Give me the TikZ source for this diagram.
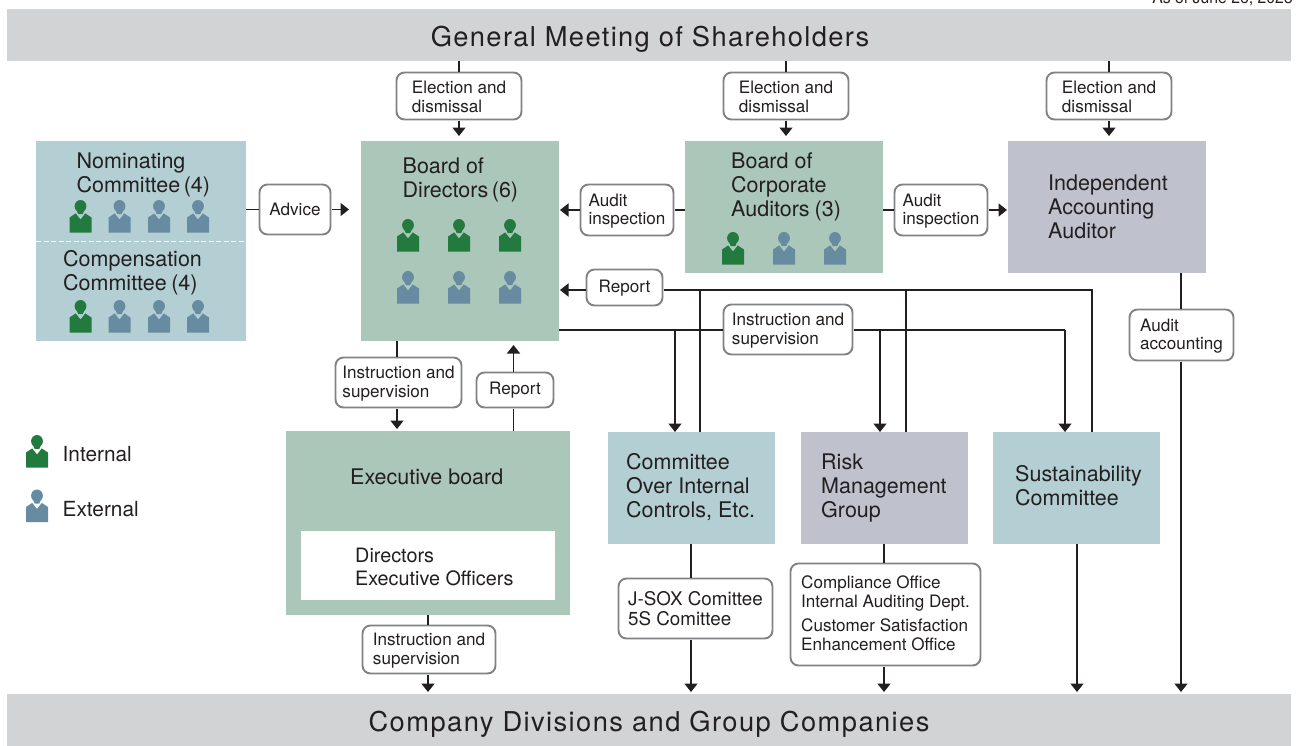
\documentclass[tikz,border=0pt]{standalone}
\usepackage{fontspec}
\setmainfont{TeX Gyre Heros}
\newfontfamily\spaced[LetterSpace=5]{TeX Gyre Heros}
\newfontfamily\spacedb[LetterSpace=5.2]{TeX Gyre Heros}
\usetikzlibrary{arrows.meta}
\definecolor{teal}{HTML}{B3CFD3}
\definecolor{sage}{HTML}{ABC7BA}
\definecolor{slate}{HTML}{BFC2CD}
\definecolor{barg}{HTML}{D1D3D4}
\definecolor{ink}{HTML}{231F20}
\definecolor{framec}{HTML}{808285}
\definecolor{intc}{HTML}{237A3E}
\definecolor{extc}{HTML}{678BA0}
\tikzset{
  block/.style={draw=none,rectangle,inner sep=0pt,outer sep=0pt},
  small/.style={font=\fontsize{17.1}{18.6}\selectfont,text=ink},
  big/.style={font=\fontsize{21.5}{24}\selectfont,text=ink,align=left,inner sep=0pt},
  bar/.style={block,fill=barg,minimum width=1284pt,minimum height=52pt,text=ink},
  lab/.style={draw=framec,line width=1.9pt,fill=white,rounded corners=8pt,small,align=left,inner sep=0pt,outer sep=1pt},
  conn/.style={draw=ink,line width=1.7pt},
  arr/.style={conn,-{Triangle[length=8.5pt,width=13pt]}},
  pics/person/.style={code={
    \fill[#1] (0,6.2) ellipse (5.9 and 6.2);
    \fill[#1] (-3.6,10.5) -- (-2.4,14) -- (2.4,14) -- (3.6,10.5) -- cycle;
    \fill[#1] (-11,32.5) -- (-11,17.5) -- (-4.8,13.4) -- (0,19.5) -- (4.8,13.4) -- (11,17.5) -- (11,32.5) -- cycle;
  }}
}
\newcommand{\bx}[7]{% name, x0,y0,x1,y1, fill, text
  \node[block,fill=#6,minimum width={#4-#2},minimum height={#5-#3},anchor=north west] (#1) at (#2,#3) {#7};}
\newcommand{\lbn}[6]{% name,x0,y0,x1,y1,text
  \node[lab,minimum width={#4-#2-1},minimum height={#5-#3-1},anchor=center] (#1) at ({(#2+#4)/2},{(#3+#5)/2}) {#6};}
\newcommand{\lb}[6]{\lbn{#1}{#2}{#3}{#4}{#5}{\rule{0pt}{14.6pt}#6}}
\begin{document}
\begin{tikzpicture}[x=1pt,y=-1pt]
\useasboundingbox (0,0) rectangle (1296,745);
\clip (0,0) rectangle (1296,745);
\node[anchor=base east,font=\fontsize{15.8}{18}\selectfont,text=ink,inner sep=0pt] (asof) at (1293,3) {As of June 26, 2023};
% bars
\node[bar,font=\spaced\fontsize{27.3}{30}\selectfont] (gms) at (649,35) {\rule{0pt}{28pt}\hspace*{2pt}General Meeting of Shareholders};
\node[bar,font=\spacedb\fontsize{27.3}{30}\selectfont] (cdg) at (649,719.5) {\rule{0pt}{29.5pt}Company Divisions and Group Companies};
% blocks
\bx{nom}{36}{141}{246}{341}{teal}{}
\bx{bod}{361}{141}{559}{341}{sage}{}
\bx{bca}{685}{141}{883}{273}{sage}{}
\bx{iaa}{1008}{141}{1206}{273}{slate}{}
\bx{exb}{286}{431}{570}{615}{sage}{}
\bx{coi}{608}{432}{775}{544}{teal}{}
\bx{rmg}{801}{432}{968}{544}{slate}{}
\bx{sus}{993}{432}{1160}{544}{teal}{}
\bx{off}{301}{531}{555}{600}{white}{}
\coordinate (dl) at (36,241.5); \coordinate (dr) at (246,241.5);
\draw[white,line width=1pt,dash pattern=on 5pt off 2.5pt] (dl) -- (dr);
% block texts
\node[big,anchor=north west] (tnom) at (76.5,153) {Nominating\\Committee\hspace{3.5pt}(4)};
\node[big,anchor=north west] (tcmp) at (63,250) {Compensation\\Committee\hspace{4.5pt}(4)};
\node[big,anchor=north west] (tbod) at (402.5,158) {Board of\\Directors\hspace{3.5pt}(6)};
\node[big,anchor=north west] (tbca) at (731,153) {Board of\\Corporate\\Auditors\hspace{5pt}(3)};
\node[big,anchor=north west] (tiaa) at (1048,175) {Independent\\Accounting\\Auditor};
\node[big,anchor=north west] (texb) at (350,469) {Executive board};
\node[big,anchor=north west,font=\fontsize{19.8}{23}\selectfont] (toff) at (355,547.5) {Directors\\Executive Officers};
\node[big,anchor=north west] (tcoi) at (626,453.5) {Committee\\Over Internal\\Controls, Etc.};
\node[big,anchor=north west] (trmg) at (821,454) {Risk\\Management\\Group};
\node[big,anchor=north west] (tsus) at (1015,465.5) {Sustainability\\Committee};
\node[big,anchor=north west,font=\fontsize{20.8}{24}\selectfont] (tint) at (62.5,446) {Internal};
\node[big,anchor=north west,font=\fontsize{20.8}{24}\selectfont] (text) at (62.5,501) {External};
% persons
\foreach \x/\c in {80.5/intc,119.5/extc,159/extc,198/extc}{
  \pic at (\x,200) {person=\c};
  \pic at (\x,300) {person=\c};
}
\foreach \x in {408,459,510}{
  \pic at (\x,219) {person=intc};
  \pic at (\x,271) {person=extc};
}
\foreach \x/\c in {733/intc,784/extc,835/extc}{
  \pic at (\x,232) {person=\c};
}
\pic at (37,435) {person=intc};
\pic at (37,489.5) {person=extc};
% labels
\lb{el1}{396}{72}{522}{120}{Election and\\dismissal}
\lb{el2}{723}{72}{849}{120}{Election and\\dismissal}
\lb{el3}{1046}{72}{1172}{120}{Election and\\dismissal}
\lbn{adv}{259}{184}{331}{235}{Advice}
\lb{ai1}{580}{184}{674}{236}{Audit\\inspection}
\lb{ai2}{894}{184}{988}{236}{Audit\\inspection}
\lb{rp1}{586}{269}{663}{306}{Report}
\lb{ins}{723}{304}{853}{355}{Instruction and\\supervision}
\lb{aac}{1129}{309}{1234}{361}{Audit\\accounting}
\lb{inl}{335}{357}{462}{408}{Instruction and\\supervision}
\lbn{rp2}{476}{372}{554}{408}{Report}
\lb{inb}{362}{625}{496}{674}{Instruction and\\supervision}
\node[lab,minimum width=154pt,minimum height=60pt,font=\fontsize{18.8}{20}\selectfont] (jsx) at (695.5,608.5) {J-SOX Comittee\\5S Comittee};
\node[lab,minimum width=190pt,minimum height=102pt] (cmp) at (885.5,614.5) {Compliance Office\\Internal Auditing Dept.\\[5.5pt]Customer Satisfaction\\Enhancement Office\rule[-3pt]{0pt}{3pt}};
% connectors
\draw[conn] (gms.south -| el1) -- (el1.north);
\draw[arr,shorten >=5pt] (el1.south) -- (bod.north -| el1);
\draw[conn] (gms.south -| el2) -- (el2.north);
\draw[arr,shorten >=5pt] (el2.south) -- (bca.north -| el2);
\draw[conn] (gms.south -| el3) -- (el3.north);
\draw[arr,shorten >=5pt] (el3.south) -- (iaa.north -| el3);
\draw[conn] (nom.east |- adv) -- (adv.west);
\draw[arr,shorten >=12pt] (adv.east) -- (bod.west |- adv);
\draw[conn] (bca.west |- ai1) -- (ai1.east);
\draw[arr,shorten >=1pt] (ai1.west) -- (bod.east |- ai1);
\draw[conn] (bca.east |- ai2) -- (ai2.west);
\draw[arr,shorten >=1pt] (ai2.east) -- (iaa.west |- ai2);
% report
\coordinate (rpA) at (700,290); \coordinate (rpB) at (906,290); \coordinate (rpC) at (1092,290);
\draw[arr,shorten >=1pt] (rp1.west |- rpA) -- (bod.east |- rpA);
\draw[conn] (rp1.east |- rpA) -- (rpC) -- (rpC |- sus.north);
\draw[conn] (rpA) -- (rpA |- coi.north);
\draw[conn] (rpB) -- (rpB |- rmg.north);
% instruction
\coordinate (inA) at (675,330); \coordinate (inB) at (880,330); \coordinate (inC) at (1065,330);
\draw[conn] (bod.east |- inA) -- (ins.west |- inA);
\draw[conn] (ins.east |- inA) -- (inC);
\draw[arr] (inC) -- (inC |- sus.north);
\draw[arr] (inA) -- (inA |- coi.north);
\draw[arr] (inB) -- (inB |- rmg.north);
% left column
\coordinate (xa) at (397,341); \coordinate (xb) at (513.5,341);
\draw[conn] (xa) -- (xa |- inl.north);
\draw[arr,shorten >=2pt] (xa |- inl.south) -- (xa |- exb.north);
\draw[conn] (xb |- exb.north) -- (xb |- rp2.south);
\draw[arr,shorten >=4pt] (xb |- rp2.north) -- (xb |- bod.south);
\coordinate (xc) at (428,615);
\draw[conn] (xc |- exb.south) -- (xc |- inb.north);
\draw[arr,shorten >=1.5pt] (xc |- inb.south) -- (xc |- cdg.north);
\coordinate (xd) at (691,544);
\draw[conn] (xd |- coi.south) -- (xd |- jsx.north);
\draw[arr,shorten >=1.5pt] (xd |- jsx.south) -- (xd |- cdg.north);
\coordinate (xe) at (884,544);
\draw[conn] (xe |- rmg.south) -- (xe |- cmp.north);
\draw[arr,shorten >=1.5pt] (xe |- cmp.south) -- (xe |- cdg.north);
\coordinate (xf) at (1077,544);
\draw[arr,shorten >=1.5pt] (xf |- sus.south) -- (xf |- cdg.north);
\coordinate (xg) at (1181,273);
\draw[conn] (xg |- iaa.south) -- (xg |- aac.north);
\draw[arr,shorten >=1.5pt] (xg |- aac.south) -- (xg |- cdg.north);
\end{tikzpicture}
\end{document}
